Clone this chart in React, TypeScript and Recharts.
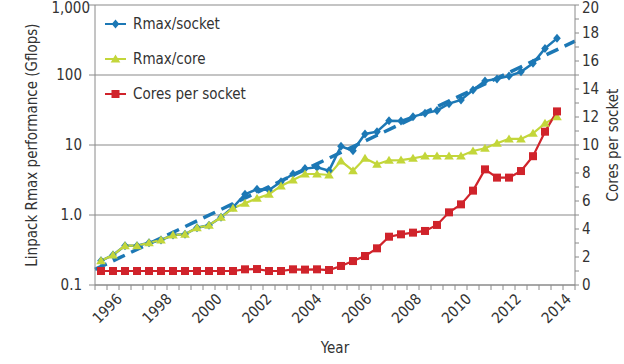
import { CartesianGrid, Label, Legend, Line, LineChart, XAxis, YAxis } from "recharts"

// Top500 list dates (June / November) shown as points
const listDates = [
  "1995-06", "1995-11", "1996-06", "1996-11", "1997-06", "1997-11", "1998-06", "1998-11",
  "1999-06", "1999-11", "2000-06", "2000-11", "2001-06", "2001-11", "2002-06", "2002-11",
  "2003-06", "2003-11", "2004-06", "2004-11", "2005-06", "2005-11", "2006-06", "2006-11",
  "2007-06", "2007-11", "2008-06", "2008-11", "2009-06", "2009-11", "2010-06", "2010-11",
  "2011-06", "2011-11", "2012-06", "2012-11", "2013-06", "2013-11", "2014-06",
]

const rmaxSocket = [
  0.222, 0.268, 0.364, 0.364, 0.402, 0.44, 0.518, 0.53, 0.659, 0.713, 0.927, 1.29, 1.98, 2.33,
  2.28, 2.99, 3.85, 4.6, 4.8, 4.3, 9.6, 8.3, 14.4, 15.5, 22.2, 22, 25.4, 28.3, 31, 39, 44, 61,
  82, 88, 97, 111, 147, 240, 334,
]

const rmaxCore = [
  0.222, 0.268, 0.364, 0.364, 0.402, 0.44, 0.518, 0.53, 0.659, 0.713, 0.927, 1.25, 1.47, 1.73,
  1.98, 2.6, 3.16, 3.85, 3.85, 3.73, 5.9, 4.3, 6.45, 5.3, 6.04, 6.1, 6.45, 6.96, 6.96, 6.96,
  6.96, 8.2, 8.97, 10.6, 12.2, 12.2, 14.7, 20.4, 25.3,
]

const coresPerSocket = [
  1, 1, 1, 1, 1, 1, 1, 1, 1, 1, 1, 1, 1.12, 1.14, 1.0, 1.0, 1.12, 1.1, 1.12, 1.07, 1.36, 1.71,
  2.07, 2.62, 3.45, 3.62, 3.74, 3.86, 4.29, 5.19, 5.76, 6.74, 8.26, 7.67, 7.67, 8.14, 9.2,
  10.95, 12.4,
]

// exponential trend of Rmax/socket (end points)
const trendYears = [1995, 2015]
const trendValues = [0.167, 305]

const yearLabels = [1996, 1998, 2000, 2002, 2004, 2006, 2008, 2010, 2012, 2014]
const leftTicks = [0.1, 1, 10, 100, 1000]
const leftLabels = ["0.1", "1.0", "10", "100", "1,000"]
const rightTicks = Array.from({ length: 21 }, (_, i) => i)
const halfYearTicks = Array.from({ length: 41 }, (_, i) => 1995 + i / 2)

const BLUE = "#1c78b5"
const GREEN = "#c3d63a"
const RED = "#d0232b"
const AXIS = "#8a8a8a"
const TEXT = "#333"
const FONT = "'Liberation Sans Narrow', 'Arial Narrow', 'DejaVu Sans Condensed', sans-serif"

const toX = (d: string) => {
  const [y, m] = d.split("-").map(Number)
  return y + (m === 6 ? 0.25 : 0.75)
}

const socketRows = listDates.map((d, i) => ({ x: toX(d), v: rmaxSocket[i] }))
const coreRows = listDates.map((d, i) => ({ x: toX(d), v: rmaxCore[i] }))
const coresRows = listDates.map((d, i) => ({ x: toX(d), v: coresPerSocket[i] }))
const trendRows = trendYears.map((x, i) => ({ x, v: trendValues[i] }))

type Kind = "diamond" | "triangle" | "square"

function Marker({ kind, cx, cy, color }: { kind: Kind; cx: number; cy: number; color: string }) {
  if (kind === "diamond") {
    return <polygon points={`${cx},${cy - 4.5} ${cx + 3.8},${cy} ${cx},${cy + 4.5} ${cx - 3.8},${cy}`} fill={color} />
  }
  if (kind === "triangle") {
    return <polygon points={`${cx},${cy - 4.5} ${cx + 4.8},${cy + 3.5} ${cx - 4.8},${cy + 3.5}`} fill={color} />
  }
  return <rect x={cx - 4} y={cy - 4} width={8} height={8} fill={color} />
}

const dotOf = (kind: Kind, color: string) => (p: any) => (
  <Marker key={`${kind}-${p.index}`} kind={kind} cx={p.cx} cy={p.cy} color={color} />
)

function YearTick(props: any) {
  const { x, y, payload } = props
  const v = payload.value
  if (!yearLabels.includes(v)) return <g />
  const dx = 4 + (v - 1996) * 0.95
  return (
    <text
      transform={`translate(${x + dx},${y + 8}) rotate(-45)`}
      textAnchor="end"
      fontSize={15}
      fill={TEXT}
      fontFamily={FONT}
    >
      {v}
    </text>
  )
}

function LeftTick(props: any) {
  const { x, y, payload } = props
  const i = leftTicks.indexOf(payload.value)
  const top = payload.value === 1000
  return (
    <text x={x + (top ? 8 : 0)} y={y} dy={top ? 8 : 5} textAnchor="end" fontSize={15} fill={TEXT} fontFamily={FONT}>
      {leftLabels[i]}
    </text>
  )
}

function RightTick(props: any) {
  const { x, y, payload } = props
  const v = payload.value
  if (v % 2 !== 0) return <g />
  return (
    <text x={x} y={y} dy={v === 20 ? 8 : 5} textAnchor="start" fontSize={15} fill={TEXT} fontFamily={FONT}>
      {v}
    </text>
  )
}

const legendItems: { name: string; kind: Kind; color: string }[] = [
  { name: "Rmax/socket", kind: "diamond", color: BLUE },
  { name: "Rmax/core", kind: "triangle", color: GREEN },
  { name: "Cores per socket", kind: "square", color: RED },
]

function LegendBox() {
  return (
    <div style={{ fontFamily: FONT, fontSize: 15, color: TEXT }}>
      {legendItems.map((it) => (
        <div key={it.name} style={{ height: 35, display: "flex", alignItems: "center" }}>
          <svg width={22} height={12} style={{ marginRight: 6 }}>
            <line x1={0} y1={6} x2={21} y2={6} stroke={it.color} strokeWidth={2} />
            <Marker kind={it.kind} cx={10.5} cy={6} color={it.color} />
          </svg>
          <span>{it.name}</span>
        </div>
      ))}
    </div>
  )
}

function VerticalTitle({ viewBox, text, dx }: any) {
  const cx = viewBox.x + dx
  const cy = viewBox.y + viewBox.height / 2
  return (
    <text
      x={cx}
      y={cy}
      transform={`rotate(-90,${cx},${cy})`}
      textAnchor="middle"
      dominantBaseline="central"
      fontSize={15}
      fill={TEXT}
      fontFamily={FONT}
    >
      {text}
    </text>
  )
}

export default function App() {
  return (
    <div style={{ position: "absolute", left: 0, top: 0, width: 624, height: 364, background: "#fff" }}>
      <LineChart width={624} height={364} margin={{ top: 5, right: 0, bottom: 0, left: 0 }}>
        <CartesianGrid yAxisId="left" vertical={false} stroke={AXIS} strokeWidth={1.2} />
        <XAxis
          dataKey="x"
          type="number"
          domain={[1995, 2015]}
          ticks={halfYearTicks}
          interval={0}
          tickSize={5}
          height={79}
          stroke={AXIS}
          tick={<YearTick />}
          allowDuplicatedCategory={false}
        >
          <Label value="Year" position="insideBottom" offset={11} fontSize={15} fill={TEXT} fontFamily={FONT} />
        </XAxis>
        <YAxis
          yAxisId="left"
          orientation="left"
          width={95}
          scale="log"
          type="number"
          domain={[0.1, 1000]}
          ticks={leftTicks}
          interval={0}
          allowDataOverflow
          tickSize={6}
          tickMargin={7}
          stroke={AXIS}
          tick={<LeftTick />}
        >
          <Label content={(p: any) => <VerticalTitle viewBox={p.viewBox} text="Linpack Rmax performance (Gflops)" dx={32} />} />
        </YAxis>
        <YAxis
          yAxisId="right"
          orientation="right"
          width={49}
          type="number"
          domain={[0, 20]}
          ticks={rightTicks}
          interval={0}
          tickSize={4}
          tickMargin={3}
          stroke={AXIS}
          tick={<RightTick />}
        >
          <Label content={(p: any) => <VerticalTitle viewBox={p.viewBox} text="Cores per socket" dx={38} />} />
        </YAxis>
        <Legend
          layout="vertical"
          align="center"
          verticalAlign="middle"
          wrapperStyle={{ left: 105, top: 6, width: 200 }}
          content={() => <LegendBox />}
        />
        <Line
          yAxisId="left"
          data={socketRows}
          dataKey="v"
          name="Rmax/socket"
          stroke={BLUE}
          strokeWidth={2.5}
          dot={dotOf("diamond", BLUE)}
          activeDot={false}
          isAnimationActive={false}
        />
        <Line
          yAxisId="left"
          data={trendRows}
          dataKey="v"
          name="trend"
          legendType="none"
          stroke={BLUE}
          strokeWidth={3.5}
          strokeDasharray="13 7"
          dot={false}
          activeDot={false}
          isAnimationActive={false}
        />
        <Line
          yAxisId="left"
          data={coreRows}
          dataKey="v"
          name="Rmax/core"
          stroke={GREEN}
          strokeWidth={2.2}
          dot={dotOf("triangle", GREEN)}
          activeDot={false}
          isAnimationActive={false}
        />
        <Line
          yAxisId="right"
          data={coresRows}
          dataKey="v"
          name="Cores per socket"
          stroke={RED}
          strokeWidth={2.2}
          dot={dotOf("square", RED)}
          activeDot={false}
          isAnimationActive={false}
        />
      </LineChart>
    </div>
  )
}
